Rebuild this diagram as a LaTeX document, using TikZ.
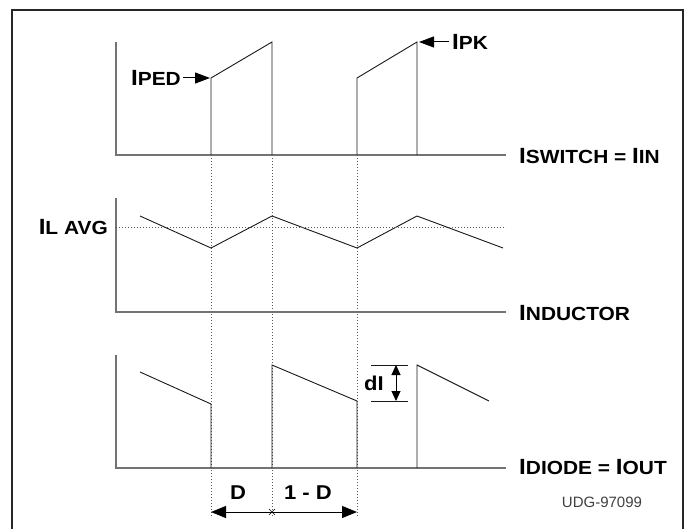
\documentclass[tikz,border=0pt]{standalone}
\usepackage{fontspec}
\setmainfont{Liberation Sans}
\newfontfamily\labfont{Liberation Sans}[FakeStretch=1.1]
\usetikzlibrary{arrows.meta}
\newcommand\capI[1]{{\fontsize{22}{22}\selectfont #1}}
\newcommand\capS[1]{{\fontsize{19}{19}\selectfont #1}}
\tikzset{
  frameline/.style={line width=2pt,draw=black!85},
  axisline/.style={line width=1.2pt,draw=black!55},
  wave/.style={line width=0.9pt,draw=black!90,line join=miter},
  guide/.style={line width=0.8pt,draw=black!65,dash pattern=on 1pt off 2pt},
  lab/.style={inner sep=0pt,font=\labfont\bfseries},
  ptr/.style={line width=1pt,-{Triangle[length=15pt,width=11pt]}},
  dim/.style={line width=1pt,{Triangle[length=15pt,width=12pt]}-{Triangle[length=15pt,width=12pt]}},
  smalldim/.style={line width=1pt,{Triangle[length=10pt,width=9pt]}-{Triangle[length=10pt,width=9pt]}},
}
\begin{document}
\begin{tikzpicture}[x=1pt,y=-1pt]
\useasboundingbox (0,0) rectangle (687,529);
\clip (0,0) rectangle (687,529);
% frame
\coordinate (fbl) at (11.5,545);
\coordinate (ftl) at (11.5,10.5);
\coordinate (ftr) at (683,10.5);
\coordinate (fbr) at (683,545);
\draw[frameline] (fbl) -- (ftl) -- (ftr) -- (fbr);

% guide verticals
\coordinate (g1t) at (211,155); \coordinate (g1b) at (211,516);
\coordinate (g2t) at (272,155); \coordinate (g2b) at (272,516);
\coordinate (g3t) at (357,155); \coordinate (g3b) at (357,516);
\draw[guide] (g1t) -- (g1b);
\draw[guide] (g2t) -- (g2b);
\draw[guide] (g3t) -- (g3b);

% axes
\coordinate (a1t) at (116,42);  \coordinate (a1o) at (116,155); \coordinate (a1r) at (506,155);
\coordinate (a2t) at (116,198); \coordinate (a2o) at (116,312); \coordinate (a2r) at (506,312);
\coordinate (a3t) at (116,355); \coordinate (a3o) at (116,468); \coordinate (a3r) at (506,468);
\draw[axisline] (a1t) -- (a1o) -- (a1r);
\draw[axisline] (a2t) -- (a2o) -- (a2r);
\draw[axisline] (a3t) -- (a3o) -- (a3r);

% switch current
\coordinate (s1a) at (211,155); \coordinate (s1b) at (211,78); \coordinate (s1c) at (272,42); \coordinate (s1d) at (272,155);
\coordinate (s2a) at (357,155); \coordinate (s2b) at (357,78); \coordinate (s2c) at (417,42); \coordinate (s2d) at (417,155);
\draw[wave] (s1a) -- (s1b) -- (s1c) -- (s1d);
\draw[wave] (s2a) -- (s2b) -- (s2c) -- (s2d);

% inductor current
\coordinate (l0) at (140,216); \coordinate (l1) at (211,248); \coordinate (l2) at (272,216);
\coordinate (l3) at (357,248); \coordinate (l4) at (417,216); \coordinate (l5) at (503,248);
\draw[wave] (l0) -- (l1) -- (l2) -- (l3) -- (l4) -- (l5);
\coordinate (avgL) at (116,227); \coordinate (avgR) at (506,227);
\draw[guide] (avgL) -- (avgR);

% diode current
\coordinate (d0) at (140,372); \coordinate (d1) at (211,404); \coordinate (d2) at (211,468);
\coordinate (d3) at (272,468); \coordinate (d4) at (272,365); \coordinate (d5) at (357,401); \coordinate (d6) at (357,468);
\coordinate (d7) at (417,468); \coordinate (d8) at (417,365); \coordinate (d9) at (489,401);
\draw[wave] (d0) -- (d1) -- (d2);
\draw[wave] (d3) -- (d4) -- (d5) -- (d6);
\draw[wave] (d7) -- (d8) -- (d9);

% dI dimension
\coordinate (dtl) at (371,365); \coordinate (dtr) at (408,365);
\coordinate (dbl) at (371,401); \coordinate (dbr) at (408,401);
\draw[wave] (dtl) -- (dtr);
\draw[wave] (dbl) -- (dbr);
\coordinate (dit) at (396,365); \coordinate (dib) at (396,401);
\draw[smalldim] (dit) -- (dib);
\node[lab,font=\labfont\bfseries\fontsize{20}{20}\selectfont] (dI) at (374,383) {dI};

% D / 1-D dimension
\coordinate (dl) at (211,512); \coordinate (dm) at (272,512); \coordinate (dr) at (357,512);
\draw[dim] (dl) -- (dr);
\draw[line width=0.6pt] ([shift={(-3,-3)}]dm) -- ([shift={(3,3)}]dm) ([shift={(-3,3)}]dm) -- ([shift={(3,-3)}]dm);
\node[lab,font=\labfont\bfseries\fontsize{20}{20}\selectfont] (Dlab) at (238,493) {D};
\node[lab,font=\labfont\bfseries\fontsize{20}{20}\selectfont] (oneD) at (308,493) {1 - D};

% pointer labels
\node[lab,anchor=east] (iped) at (181,78) {\capI{I}\capS{PED}};
\coordinate (ipedtip) at (210,78);
\draw[ptr] ([xshift=2pt]iped.east) -- (ipedtip);
\node[lab,anchor=west] (ipk) at (452,42) {\capI{I}\capS{PK}};
\coordinate (ipktip) at (419,42);
\draw[ptr] ([xshift=-3pt]ipk.west) -- (ipktip);

% axis labels
\node[lab,anchor=west] (isw) at (519,156) {\capI{I}\capS{SWITCH = }\capI{I}\capS{IN}};
\node[lab,anchor=west] (iind) at (519,313) {\capI{I}\capS{NDUCTOR}};
\node[lab,anchor=west] (idio) at (519,467) {\capI{I}\capS{DIODE = }\capI{I}\capS{OUT}};
\node[lab,anchor=east] (iavg) at (108,227) {\capI{I}\capS{L AVG}};

\node[inner sep=0pt,font=\fontsize{15}{15}\selectfont,text=black!75] (udg) at (602,502) {UDG-97099};
\end{tikzpicture}
\end{document}
